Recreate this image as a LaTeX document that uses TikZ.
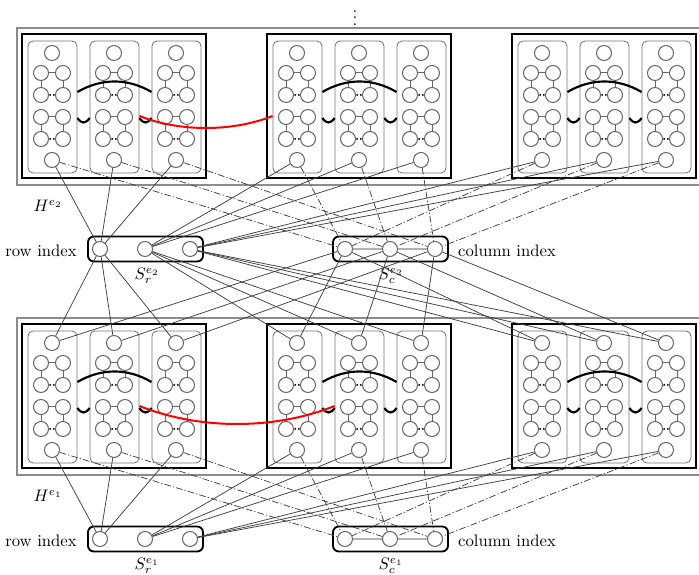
\documentclass[tikz,border=0pt]{standalone}
\usetikzlibrary{calc}
\begin{document}
\begin{tikzpicture}[x=0.6pt,y=-0.6pt,
 cnode/.style={circle, draw=black!60, fill=white, line width=0.6pt, minimum size=9pt, inner sep=0pt},
 colbox/.style={draw=black!55, rounded corners=3pt, line width=0.5pt, minimum width=29.4pt, minimum height=79.2pt, inner sep=0pt},
 blockbox/.style={draw=black, line width=1.4pt, minimum width=110.4pt, minimum height=86.4pt, inner sep=0pt},
 sbox/.style={draw=black, line width=1.1pt, rounded corners=3.5pt, minimum width=69pt, minimum height=15pt, inner sep=0pt},
 layerbox/.style={draw=black!45, line width=0.8pt},
 conn/.style={draw=black!75, line width=0.45pt},
 dd/.style={conn, dash pattern=on 4pt off 1.3pt on 0.7pt off 1.3pt},
 gedge/.style={draw=black!60, line width=0.6pt},
 arcline/.style={draw=black, line width=1.3pt},
 redline/.style={draw=red, line width=1.2pt},
 lightline/.style={draw=black!30, line width=0.9pt},
 lab/.style={inner sep=1pt}
]
\useasboundingbox (0,0) rectangle (699,575);
\node[inner sep=0pt] (vd) at (355,13) {$\vdots$};
% layers
\foreach \L/\dy in {2/0,1/290}{
  \draw[layerbox] (699,28+\dy) -| (17,185+\dy) -- (699,185+\dy);
  \node[lab] (H\L) at (48,206+\dy) {$H^{e_\L}$};
  \foreach \b in {1,2,3}{
    \pgfmathsetmacro{\bx}{114+245*(\b-1)}
    \node[blockbox] (B\L\b) at (\bx,106+\dy) {};
    \foreach \j in {1,2,3}{
      \pgfmathsetmacro{\x}{52+245*(\b-1)+62*(\j-1)}
      \node[colbox] (k\L\b\j) at (\x+0.5,107+\dy) {};
      \node[cnode] (t\L\b\j) at (\x,53+\dy) {};
      \node[cnode] (u\L\b\j) at (\x,160+\dy) {};
      \foreach \g/\gy in {a/73,b/117}{
        \node[cnode] (\g1\L\b\j) at (\x-11,\gy+\dy) {};
        \node[cnode] (\g2\L\b\j) at (\x+11,\gy+\dy) {};
        \node[cnode] (\g3\L\b\j) at (\x-11,\gy+22+\dy) {};
        \node[cnode] (\g4\L\b\j) at (\x+11,\gy+22+\dy) {};
        \draw[gedge] (\g1\L\b\j) -- (\g2\L\b\j);
        \draw[gedge] (\g1\L\b\j) -- (\g3\L\b\j);
        \draw[gedge] (\g2\L\b\j) -- (\g4\L\b\j);
        \coordinate (m\g\L\b\j) at ($(\g3\L\b\j)!0.5!(\g4\L\b\j)$);
        \fill ([xshift=-1.1pt]m\g\L\b\j) circle (0.65pt);
        \fill ([xshift=1.1pt]m\g\L\b\j) circle (0.65pt);
      }
    }
    \draw[arcline] ([yshift=9pt]k\L\b1.east) .. controls +(24,-14) and +(-24,-14) .. ([yshift=9pt]k\L\b3.west);
    \draw[arcline] ([yshift=-6.6pt]k\L\b1.east) .. controls +(4,6) and +(-4,6) .. ([yshift=-6.6pt]k\L\b2.west);
    \draw[arcline] ([yshift=-6.6pt]k\L\b2.east) .. controls +(4,6) and +(-4,6) .. ([yshift=-6.6pt]k\L\b3.west);
  }
  % index sets
  \node[sbox] (SR\L) at (145.5,249+\dy) {};
  \node[sbox] (SC\L) at (390.5,249+\dy) {};
  \foreach \i/\rx/\cx in {1/100/345,2/145/390,3/190/435}{
    \node[cnode] (r\L\i) at (\rx,249+\dy) {};
    \node[cnode] (c\L\i) at (\cx,249+\dy) {};
  }
  \draw[lightline] (c\L1) -- (c\L2);
  \draw[lightline] (c\L2) -- (c\L3);
  \node[lab] (rowlab\L) at (41,251+\dy) {row index};
  \node[lab] (collab\L) at (507,251+\dy) {column index};
  \node[lab] (srlab\L) at (147,276+\dy) {$S_r^{e_\L}$};
  \node[lab] (sclab\L) at (391,276+\dy) {$S_c^{e_\L}$};
}
% red links
\draw[redline] ([yshift=-5.4pt]k212.east) .. controls +(40,16) and +(-40,16) .. ([yshift=-5.4pt]k221.west);
\draw[redline] ([yshift=-5.4pt]k112.east) .. controls +(60,24) and +(-60,24) .. ([yshift=-5.4pt]k122.west);
% connectors from layers to their index sets
\foreach \L in {1,2}{
  \foreach \b in {1,2,3}{
    \foreach \j in {1,2,3}{
      \draw[conn] (u\L\b\j) -- (r\L\b);
      \draw[dd] (u\L\b\j) -- (c\L\j);
    }
  }
}
% connectors from S^{e2} to top of layer e1
\foreach \b in {1,2,3}{
  \foreach \j in {1,2,3}{
    \draw[conn] (r2\b) -- (t1\b\j);
    \draw[conn] (c2\j) -- (t1\b\j);
  }
}
\end{tikzpicture}
\end{document}
